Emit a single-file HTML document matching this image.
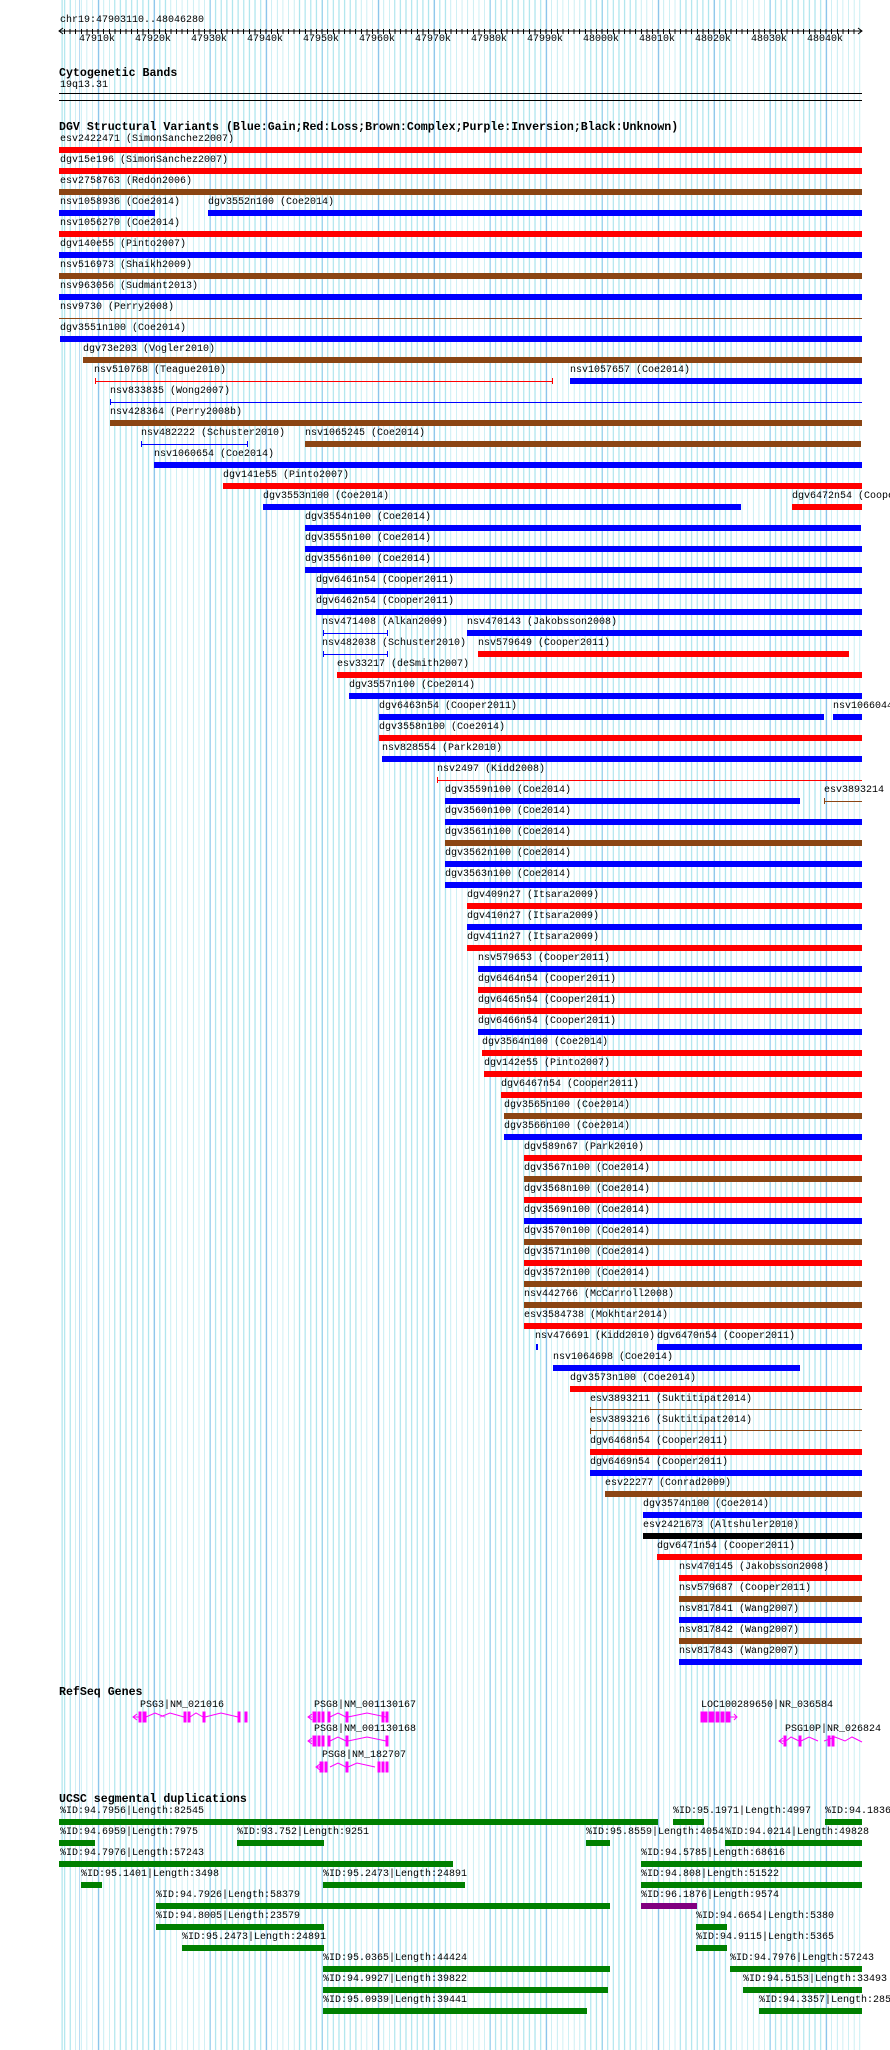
<!DOCTYPE html>
<html><head><meta charset="utf-8"><style>
body{margin:0;background:#fff;width:890px;height:2050px;position:relative;overflow:hidden}
.gr{position:absolute;left:59px;top:0;width:803px;height:2050px;
background:repeating-linear-gradient(90deg,#8cc4ec 0 1px,transparent 1px 56px) 39px 0,repeating-linear-gradient(90deg,#b0e6ee 0 1px,transparent 1px 5.6px) 5px 0}
.l{position:absolute;font:10px/12px "Liberation Mono",monospace;white-space:nowrap;color:#000}
.h{position:absolute;left:59px;font:bold 11.6px/14px "Liberation Mono",monospace;white-space:nowrap}
.b{position:absolute;height:6px}
.t{position:absolute;height:1px}
.k1{position:absolute;width:1px;height:6px}
.r{background:#f00}.u{background:#00f}.n{background:#8b4513}.k{background:#000}.g{background:#008000}.p{background:#800080}
</style></head><body>
<div class="gr"></div>
<div class="l" style="left:60px;top:15px">chr19:47903110..48046280</div>
<svg style="position:absolute;left:0;top:0" width="890" height="50">
<line x1="59" y1="31" x2="862" y2="31" stroke="#000"/>
<path d="M63 28 L59 31 L63 34 M858 28 L862 31 L858 34" stroke="#000" fill="none"/>
</svg>
<div style="position:absolute;left:64px;top:29px;width:795px;height:5px;background:repeating-linear-gradient(90deg,#000 0 1px,transparent 1px 5.6px)"></div>
<div class="l" style="left:79px;top:34px">47910k</div><div class="l" style="left:135px;top:34px">47920k</div><div class="l" style="left:191px;top:34px">47930k</div><div class="l" style="left:247px;top:34px">47940k</div><div class="l" style="left:303px;top:34px">47950k</div><div class="l" style="left:359px;top:34px">47960k</div><div class="l" style="left:415px;top:34px">47970k</div><div class="l" style="left:471px;top:34px">47980k</div><div class="l" style="left:527px;top:34px">47990k</div><div class="l" style="left:583px;top:34px">48000k</div><div class="l" style="left:639px;top:34px">48010k</div><div class="l" style="left:695px;top:34px">48020k</div><div class="l" style="left:751px;top:34px">48030k</div><div class="l" style="left:807px;top:34px">48040k</div>
<div class="h" style="top:67px">Cytogenetic Bands</div>
<div class="l" style="left:60px;top:80px">19q13.31</div>
<div class="t k" style="left:59px;top:93px;width:803px"></div>
<div class="t k" style="left:59px;top:100px;width:803px"></div>
<div class="h" style="top:121px">DGV Structural Variants (Blue:Gain;Red:Loss;Brown:Complex;Purple:Inversion;Black:Unknown)</div>

<div class="l" style="left:60px;top:134px">esv2422471 (SimonSanchez2007)</div><div class="b r" style="left:59px;top:147px;width:803px"></div>
<div class="l" style="left:60px;top:155px">dgv15e196 (SimonSanchez2007)</div><div class="b r" style="left:59px;top:168px;width:803px"></div>
<div class="l" style="left:60px;top:176px">esv2758763 (Redon2006)</div><div class="b n" style="left:59px;top:189px;width:803px"></div>
<div class="l" style="left:60px;top:197px">nsv1058936 (Coe2014)</div><div class="b u" style="left:59px;top:210px;width:96px"></div>
<div class="l" style="left:208px;top:197px">dgv3552n100 (Coe2014)</div><div class="b u" style="left:208px;top:210px;width:654px"></div>
<div class="l" style="left:60px;top:218px">nsv1056270 (Coe2014)</div><div class="b r" style="left:59px;top:231px;width:803px"></div>
<div class="l" style="left:60px;top:239px">dgv140e55 (Pinto2007)</div><div class="b u" style="left:59px;top:252px;width:803px"></div>
<div class="l" style="left:60px;top:260px">nsv516973 (Shaikh2009)</div><div class="b n" style="left:59px;top:273px;width:803px"></div>
<div class="l" style="left:60px;top:281px">nsv963056 (Sudmant2013)</div><div class="b u" style="left:59px;top:294px;width:803px"></div>
<div class="l" style="left:60px;top:302px">nsv9730 (Perry2008)</div><div class="t n" style="left:59px;top:318px;width:803px"></div>
<div class="l" style="left:60px;top:323px">dgv3551n100 (Coe2014)</div><div class="b u" style="left:60px;top:336px;width:802px"></div>
<div class="l" style="left:83px;top:344px">dgv73e203 (Vogler2010)</div><div class="b n" style="left:83px;top:357px;width:779px"></div>
<div class="l" style="left:94px;top:365px">nsv510768 (Teague2010)</div><div class="t r" style="left:95px;top:381px;width:458px"></div><div class="k1 r" style="left:95px;top:378px"></div><div class="k1 r" style="left:552px;top:378px"></div>
<div class="l" style="left:570px;top:365px">nsv1057657 (Coe2014)</div><div class="b u" style="left:570px;top:378px;width:292px"></div>
<div class="l" style="left:110px;top:386px">nsv833835 (Wong2007)</div><div class="t u" style="left:110px;top:402px;width:752px"></div><div class="k1 u" style="left:110px;top:399px"></div>
<div class="l" style="left:110px;top:407px">nsv428364 (Perry2008b)</div><div class="b n" style="left:110px;top:420px;width:752px"></div>
<div class="l" style="left:141px;top:428px">nsv482222 (Schuster2010)</div><div class="t u" style="left:141px;top:444px;width:107px"></div><div class="k1 u" style="left:141px;top:441px"></div><div class="k1 u" style="left:247px;top:441px"></div>
<div class="l" style="left:305px;top:428px">nsv1065245 (Coe2014)</div><div class="b n" style="left:305px;top:441px;width:556px"></div>
<div class="l" style="left:154px;top:449px">nsv1060654 (Coe2014)</div><div class="b u" style="left:154px;top:462px;width:708px"></div>
<div class="l" style="left:223px;top:470px">dgv141e55 (Pinto2007)</div><div class="b r" style="left:223px;top:483px;width:639px"></div>
<div class="l" style="left:263px;top:491px">dgv3553n100 (Coe2014)</div><div class="b u" style="left:263px;top:504px;width:478px"></div>
<div class="l" style="left:792px;top:491px">dgv6472n54 (Cooper2011)</div><div class="b r" style="left:792px;top:504px;width:70px"></div>
<div class="l" style="left:305px;top:512px">dgv3554n100 (Coe2014)</div><div class="b u" style="left:305px;top:525px;width:556px"></div>
<div class="l" style="left:305px;top:533px">dgv3555n100 (Coe2014)</div><div class="b u" style="left:305px;top:546px;width:557px"></div>
<div class="l" style="left:305px;top:554px">dgv3556n100 (Coe2014)</div><div class="b u" style="left:305px;top:567px;width:557px"></div>
<div class="l" style="left:316px;top:575px">dgv6461n54 (Cooper2011)</div><div class="b u" style="left:316px;top:588px;width:546px"></div>
<div class="l" style="left:316px;top:596px">dgv6462n54 (Cooper2011)</div><div class="b u" style="left:316px;top:609px;width:546px"></div>
<div class="l" style="left:322px;top:617px">nsv471408 (Alkan2009)</div><div class="t u" style="left:323px;top:633px;width:65px"></div><div class="k1 u" style="left:323px;top:630px"></div><div class="k1 u" style="left:387px;top:630px"></div>
<div class="l" style="left:467px;top:617px">nsv470143 (Jakobsson2008)</div><div class="b u" style="left:467px;top:630px;width:395px"></div>
<div class="l" style="left:322px;top:638px">nsv482038 (Schuster2010)</div><div class="t u" style="left:323px;top:654px;width:65px"></div><div class="k1 u" style="left:323px;top:651px"></div><div class="k1 u" style="left:387px;top:651px"></div>
<div class="l" style="left:478px;top:638px">nsv579649 (Cooper2011)</div><div class="b r" style="left:478px;top:651px;width:371px"></div>
<div class="l" style="left:337px;top:659px">esv33217 (deSmith2007)</div><div class="b r" style="left:337px;top:672px;width:525px"></div>
<div class="l" style="left:349px;top:680px">dgv3557n100 (Coe2014)</div><div class="b u" style="left:349px;top:693px;width:513px"></div>
<div class="l" style="left:379px;top:701px">dgv6463n54 (Cooper2011)</div><div class="b u" style="left:379px;top:714px;width:445px"></div>
<div class="l" style="left:833px;top:701px">nsv1066044</div><div class="b u" style="left:833px;top:714px;width:29px"></div>
<div class="l" style="left:379px;top:722px">dgv3558n100 (Coe2014)</div><div class="b r" style="left:379px;top:735px;width:483px"></div>
<div class="l" style="left:382px;top:743px">nsv828554 (Park2010)</div><div class="b u" style="left:382px;top:756px;width:480px"></div>
<div class="l" style="left:437px;top:764px">nsv2497 (Kidd2008)</div><div class="t r" style="left:437px;top:780px;width:425px"></div><div class="k1 r" style="left:437px;top:777px"></div>
<div class="l" style="left:445px;top:785px">dgv3559n100 (Coe2014)</div><div class="b u" style="left:445px;top:798px;width:355px"></div>
<div class="l" style="left:824px;top:785px">esv3893214</div><div class="t n" style="left:824px;top:801px;width:38px"></div><div class="k1 n" style="left:824px;top:798px"></div>
<div class="l" style="left:445px;top:806px">dgv3560n100 (Coe2014)</div><div class="b u" style="left:445px;top:819px;width:417px"></div>
<div class="l" style="left:445px;top:827px">dgv3561n100 (Coe2014)</div><div class="b n" style="left:445px;top:840px;width:417px"></div>
<div class="l" style="left:445px;top:848px">dgv3562n100 (Coe2014)</div><div class="b u" style="left:445px;top:861px;width:417px"></div>
<div class="l" style="left:445px;top:869px">dgv3563n100 (Coe2014)</div><div class="b u" style="left:445px;top:882px;width:417px"></div>
<div class="l" style="left:467px;top:890px">dgv409n27 (Itsara2009)</div><div class="b r" style="left:467px;top:903px;width:395px"></div>
<div class="l" style="left:467px;top:911px">dgv410n27 (Itsara2009)</div><div class="b u" style="left:467px;top:924px;width:395px"></div>
<div class="l" style="left:467px;top:932px">dgv411n27 (Itsara2009)</div><div class="b r" style="left:467px;top:945px;width:395px"></div>
<div class="l" style="left:478px;top:953px">nsv579653 (Cooper2011)</div><div class="b u" style="left:478px;top:966px;width:384px"></div>
<div class="l" style="left:478px;top:974px">dgv6464n54 (Cooper2011)</div><div class="b r" style="left:478px;top:987px;width:384px"></div>
<div class="l" style="left:478px;top:995px">dgv6465n54 (Cooper2011)</div><div class="b r" style="left:478px;top:1008px;width:384px"></div>
<div class="l" style="left:478px;top:1016px">dgv6466n54 (Cooper2011)</div><div class="b u" style="left:478px;top:1029px;width:384px"></div>
<div class="l" style="left:482px;top:1037px">dgv3564n100 (Coe2014)</div><div class="b r" style="left:482px;top:1050px;width:380px"></div>
<div class="l" style="left:484px;top:1058px">dgv142e55 (Pinto2007)</div><div class="b r" style="left:484px;top:1071px;width:378px"></div>
<div class="l" style="left:501px;top:1079px">dgv6467n54 (Cooper2011)</div><div class="b r" style="left:501px;top:1092px;width:361px"></div>
<div class="l" style="left:504px;top:1100px">dgv3565n100 (Coe2014)</div><div class="b n" style="left:504px;top:1113px;width:358px"></div>
<div class="l" style="left:504px;top:1121px">dgv3566n100 (Coe2014)</div><div class="b u" style="left:504px;top:1134px;width:358px"></div>
<div class="l" style="left:524px;top:1142px">dgv589n67 (Park2010)</div><div class="b r" style="left:524px;top:1155px;width:338px"></div>
<div class="l" style="left:524px;top:1163px">dgv3567n100 (Coe2014)</div><div class="b n" style="left:524px;top:1176px;width:338px"></div>
<div class="l" style="left:524px;top:1184px">dgv3568n100 (Coe2014)</div><div class="b r" style="left:524px;top:1197px;width:338px"></div>
<div class="l" style="left:524px;top:1205px">dgv3569n100 (Coe2014)</div><div class="b u" style="left:524px;top:1218px;width:338px"></div>
<div class="l" style="left:524px;top:1226px">dgv3570n100 (Coe2014)</div><div class="b n" style="left:524px;top:1239px;width:338px"></div>
<div class="l" style="left:524px;top:1247px">dgv3571n100 (Coe2014)</div><div class="b r" style="left:524px;top:1260px;width:338px"></div>
<div class="l" style="left:524px;top:1268px">dgv3572n100 (Coe2014)</div><div class="b n" style="left:524px;top:1281px;width:338px"></div>
<div class="l" style="left:524px;top:1289px">nsv442766 (McCarroll2008)</div><div class="b n" style="left:524px;top:1302px;width:338px"></div>
<div class="l" style="left:524px;top:1310px">esv3584738 (Mokhtar2014)</div><div class="b r" style="left:524px;top:1323px;width:338px"></div>
<div class="l" style="left:535px;top:1331px">nsv476691 (Kidd2010)</div><div class="b u" style="left:536px;top:1344px;width:2px"></div>
<div class="l" style="left:657px;top:1331px">dgv6470n54 (Cooper2011)</div><div class="b u" style="left:657px;top:1344px;width:205px"></div>
<div class="l" style="left:553px;top:1352px">nsv1064698 (Coe2014)</div><div class="b u" style="left:553px;top:1365px;width:247px"></div>
<div class="l" style="left:570px;top:1373px">dgv3573n100 (Coe2014)</div><div class="b r" style="left:570px;top:1386px;width:292px"></div>
<div class="l" style="left:590px;top:1394px">esv3893211 (Suktitipat2014)</div><div class="t n" style="left:590px;top:1409px;width:272px"></div><div class="k1 n" style="left:590px;top:1407px"></div>
<div class="l" style="left:590px;top:1415px">esv3893216 (Suktitipat2014)</div><div class="t n" style="left:590px;top:1430px;width:272px"></div><div class="k1 n" style="left:590px;top:1428px"></div>
<div class="l" style="left:590px;top:1436px">dgv6468n54 (Cooper2011)</div><div class="b r" style="left:590px;top:1449px;width:272px"></div>
<div class="l" style="left:590px;top:1457px">dgv6469n54 (Cooper2011)</div><div class="b u" style="left:590px;top:1470px;width:272px"></div>
<div class="l" style="left:605px;top:1478px">esv22277 (Conrad2009)</div><div class="b n" style="left:605px;top:1491px;width:257px"></div>
<div class="l" style="left:643px;top:1499px">dgv3574n100 (Coe2014)</div><div class="b u" style="left:643px;top:1512px;width:219px"></div>
<div class="l" style="left:643px;top:1520px">esv2421673 (Altshuler2010)</div><div class="b k" style="left:643px;top:1533px;width:219px"></div>
<div class="l" style="left:657px;top:1541px">dgv6471n54 (Cooper2011)</div><div class="b r" style="left:657px;top:1554px;width:205px"></div>
<div class="l" style="left:679px;top:1562px">nsv470145 (Jakobsson2008)</div><div class="b r" style="left:679px;top:1575px;width:183px"></div>
<div class="l" style="left:679px;top:1583px">nsv579687 (Cooper2011)</div><div class="b n" style="left:679px;top:1596px;width:183px"></div>
<div class="l" style="left:679px;top:1604px">nsv817841 (Wang2007)</div><div class="b u" style="left:679px;top:1617px;width:183px"></div>
<div class="l" style="left:679px;top:1625px">nsv817842 (Wang2007)</div><div class="b n" style="left:679px;top:1638px;width:183px"></div>
<div class="l" style="left:679px;top:1646px">nsv817843 (Wang2007)</div><div class="b u" style="left:679px;top:1659px;width:183px"></div>

<div class="h" style="top:1686px">RefSeq Genes</div>
<div class="l" style="left:140px;top:1700px">PSG3|NM_021016</div>
<div class="l" style="left:314px;top:1700px">PSG8|NM_001130167</div>
<div class="l" style="left:701px;top:1700px">LOC100289650|NR_036584</div>
<div class="l" style="left:314px;top:1724px">PSG8|NM_001130168</div>
<div class="l" style="left:785px;top:1724px">PSG10P|NR_026824</div>
<div class="l" style="left:322px;top:1750px">PSG8|NM_182707</div>
<svg style="position:absolute;left:0;top:0" width="890" height="2050" fill="#f0f" stroke="#f0f">
<g stroke-width="1" fill="none">
<path d="M133 1717H139M137 1714L133 1717L137 1720M146 1717L155 1713L165 1717M190 1717L196 1713L203 1717M205 1717L221 1713L238 1717M160 1717L170 1713L184 1717"/>
<path d="M308 1717H312M312 1714L308 1717L312 1720M330 1717L338 1713L346 1717M348 1717L367 1713L386 1717"/>
<path d="M308 1741H312M312 1738L308 1741L312 1744M330 1741L338 1737L346 1741M348 1741L367 1737L386 1741"/>
<path d="M316 1767H320M320 1764L316 1767L320 1770M330 1767L338 1763L346 1767M348 1767L357 1763L375 1767"/>
<path d="M730 1717H737M734 1714L737 1717L734 1720"/>
<path d="M779 1741H784M783 1738L779 1741L783 1744M786 1741L791 1737L799 1741M801 1741L809 1737L818 1741M824 1741L835 1737L845 1741L852 1737L862 1742"/>
</g>
<rect x="139" y="1712" width="2" height="10"/><rect x="143" y="1712" width="3" height="10"/><rect x="184" y="1712" width="2" height="10"/><rect x="188" y="1712" width="2" height="10"/><rect x="203" y="1712" width="2" height="10"/><rect x="238" y="1712" width="2" height="10"/><rect x="245" y="1712" width="2" height="10"/>
<rect x="313" y="1712" width="3" height="10"/><rect x="318" y="1712" width="2" height="10"/><rect x="322" y="1712" width="2" height="10"/><rect x="328" y="1712" width="2" height="10"/><rect x="346" y="1712" width="2" height="10"/><rect x="382" y="1712" width="2" height="10"/><rect x="386" y="1712" width="2" height="10"/>
<rect x="313" y="1736" width="3" height="10"/><rect x="318" y="1736" width="2" height="10"/><rect x="322" y="1736" width="2" height="10"/><rect x="328" y="1736" width="2" height="10"/><rect x="346" y="1736" width="2" height="10"/><rect x="386" y="1736" width="2" height="10"/>
<rect x="320" y="1762" width="3" height="10"/><rect x="325" y="1762" width="2" height="10"/><rect x="346" y="1762" width="2" height="10"/><rect x="378" y="1762" width="2" height="10"/><rect x="382" y="1762" width="2" height="10"/><rect x="386" y="1762" width="2" height="10"/>
<rect x="701" y="1712" width="6" height="10"/><rect x="709" y="1712" width="5" height="10"/><rect x="716" y="1712" width="3" height="10"/><rect x="721" y="1712" width="3" height="10"/><rect x="726" y="1712" width="4" height="10"/>
<rect x="784" y="1736" width="2" height="10"/><rect x="799" y="1736" width="2" height="10"/><rect x="828" y="1736" width="2" height="10"/><rect x="832" y="1736" width="2" height="10"/>
</svg>

<div class="h" style="top:1793px">UCSC segmental duplications</div>
<div class="l" style="left:60px;top:1806px">%ID:94.7956|Length:82545</div><div class="b g" style="left:59px;top:1819px;width:599px"></div>
<div class="l" style="left:673px;top:1806px">%ID:95.1971|Length:4997</div><div class="b g" style="left:673px;top:1819px;width:31px"></div>
<div class="l" style="left:825px;top:1806px">%ID:94.1836</div><div class="b g" style="left:825px;top:1819px;width:37px"></div>
<div class="l" style="left:60px;top:1827px">%ID:94.6959|Length:7975</div><div class="b g" style="left:59px;top:1840px;width:36px"></div>
<div class="l" style="left:237px;top:1827px">%ID:93.752|Length:9251</div><div class="b g" style="left:237px;top:1840px;width:87px"></div>
<div class="l" style="left:586px;top:1827px">%ID:95.8559|Length:4054</div><div class="b g" style="left:586px;top:1840px;width:24px"></div>
<div class="l" style="left:725px;top:1827px">%ID:94.0214|Length:49828</div><div class="b g" style="left:725px;top:1840px;width:137px"></div>
<div class="l" style="left:60px;top:1848px">%ID:94.7976|Length:57243</div><div class="b g" style="left:59px;top:1861px;width:394px"></div>
<div class="l" style="left:641px;top:1848px">%ID:94.5785|Length:68616</div><div class="b g" style="left:641px;top:1861px;width:221px"></div>
<div class="l" style="left:81px;top:1869px">%ID:95.1401|Length:3498</div><div class="b g" style="left:81px;top:1882px;width:21px"></div>
<div class="l" style="left:323px;top:1869px">%ID:95.2473|Length:24891</div><div class="b g" style="left:323px;top:1882px;width:142px"></div>
<div class="l" style="left:641px;top:1869px">%ID:94.808|Length:51522</div><div class="b g" style="left:641px;top:1882px;width:221px"></div>
<div class="l" style="left:156px;top:1890px">%ID:94.7926|Length:58379</div><div class="b g" style="left:156px;top:1903px;width:454px"></div>
<div class="l" style="left:641px;top:1890px">%ID:96.1876|Length:9574</div><div class="b p" style="left:641px;top:1903px;width:56px"></div>
<div class="l" style="left:156px;top:1911px">%ID:94.8005|Length:23579</div><div class="b g" style="left:156px;top:1924px;width:168px"></div>
<div class="l" style="left:696px;top:1911px">%ID:94.6654|Length:5380</div><div class="b g" style="left:696px;top:1924px;width:31px"></div>
<div class="l" style="left:182px;top:1932px">%ID:95.2473|Length:24891</div><div class="b g" style="left:182px;top:1945px;width:142px"></div>
<div class="l" style="left:696px;top:1932px">%ID:94.9115|Length:5365</div><div class="b g" style="left:696px;top:1945px;width:31px"></div>
<div class="l" style="left:323px;top:1953px">%ID:95.0365|Length:44424</div><div class="b g" style="left:323px;top:1966px;width:287px"></div>
<div class="l" style="left:730px;top:1953px">%ID:94.7976|Length:57243</div><div class="b g" style="left:730px;top:1966px;width:132px"></div>
<div class="l" style="left:323px;top:1974px">%ID:94.9927|Length:39822</div><div class="b g" style="left:323px;top:1987px;width:285px"></div>
<div class="l" style="left:743px;top:1974px">%ID:94.5153|Length:33493</div><div class="b g" style="left:743px;top:1987px;width:119px"></div>
<div class="l" style="left:323px;top:1995px">%ID:95.0939|Length:39441</div><div class="b g" style="left:323px;top:2008px;width:264px"></div>
<div class="l" style="left:759px;top:1995px">%ID:94.3357|Length:285</div><div class="b g" style="left:759px;top:2008px;width:103px"></div>
</body></html>
